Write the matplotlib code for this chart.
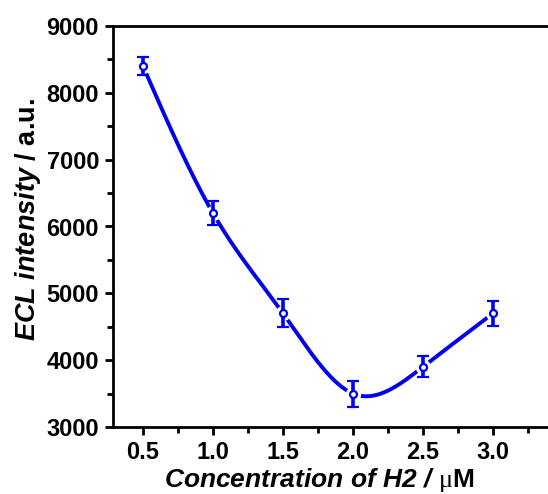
import numpy as np
import matplotlib
matplotlib.use("Agg")
import matplotlib.pyplot as plt
from matplotlib.ticker import MultipleLocator

# ---- data ----
conc = [0.5, 1.0, 1.5, 2.0, 2.5, 3.0]
ecl = [8400, 6200, 4700, 3500, 3900, 4700]
err = [130, 180, 210, 195, 155, 185]
xticks = [0.5, 1.0, 1.5, 2.0, 2.5, 3.0]
yticks = [3000, 4000, 5000, 6000, 7000, 8000, 9000]

plt.rcParams['font.family'] = ['Liberation Sans', 'DejaVu Sans']
plt.rcParams['mathtext.fontset'] = 'custom'
plt.rcParams['mathtext.rm'] = 'Liberation Serif'
plt.rcParams['mathtext.bf'] = 'Liberation Sans:bold'
plt.rcParams['mathtext.bfit'] = 'Liberation Sans:bold:italic'
plt.rcParams['mathtext.it'] = 'Liberation Sans:italic'


def natural_spline(x, y, xs):
    x = np.asarray(x, float); y = np.asarray(y, float)
    n = len(x)
    h = np.diff(x)
    A = np.zeros((n, n)); b = np.zeros(n)
    A[0, 0] = 1; A[-1, -1] = 1
    for i in range(1, n - 1):
        A[i, i - 1] = h[i - 1]
        A[i, i] = 2 * (h[i - 1] + h[i])
        A[i, i + 1] = h[i]
        b[i] = 3 * ((y[i + 1] - y[i]) / h[i] - (y[i] - y[i - 1]) / h[i - 1])
    c = np.linalg.solve(A, b)
    ys = np.empty_like(xs)
    for k, xv in enumerate(xs):
        i = min(max(np.searchsorted(x, xv) - 1, 0), n - 2)
        dx = xv - x[i]
        bi = (y[i + 1] - y[i]) / h[i] - h[i] * (2 * c[i] + c[i + 1]) / 3
        di = (c[i + 1] - c[i]) / (3 * h[i])
        ys[k] = y[i] + bi * dx + c[i] * dx ** 2 + di * dx ** 3
    return ys


W, H = 548, 494
fig = plt.figure(figsize=(W / 100, H / 100), dpi=100)
x0, x1 = 0.286, 3.6
left_px, bottom_px, top_px = 113, 427, 26
pxu = 140
ax = fig.add_axes([left_px / W, (H - bottom_px) / H, (x1 - x0) * pxu / W, (bottom_px - top_px) / H])

blue = '#0000ee'
xs = np.linspace(conc[0], conc[-1], 400)
ax.plot(xs, natural_spline(conc, ecl, xs), color=blue, lw=2.8, zorder=2, solid_capstyle='round')
ax.plot(conc, ecl, 'o', ms=10, mfc='white', mec='white', zorder=3)
ax.errorbar(conc, ecl, yerr=err, fmt='o', color=blue, ms=5, mfc='white', mec=blue, mew=1.6,
            ecolor=blue, elinewidth=2.6, capsize=4.5, capthick=2.6, zorder=4)

ax.set_xlim(x0, x1)
ax.set_ylim(3000, 9000)
ax.set_xticks(xticks)
ax.set_xticklabels([f'{v:.1f}' for v in xticks])
ax.set_yticks(yticks)
ax.xaxis.set_minor_locator(MultipleLocator(0.25))
ax.yaxis.set_minor_locator(MultipleLocator(500))
for s in ax.spines.values():
    s.set_linewidth(2.0)
ax.tick_params(which='major', direction='out', length=6, width=2, labelsize=17, pad=4)
ax.tick_params(which='minor', direction='out', length=4, width=2)
for lab in ax.get_xticklabels() + ax.get_yticklabels():
    lab.set_fontweight('bold')

fig.text(28 / W, 1 - 220 / H, r'$\mathbfit{ECL\ intensity}$ / a.u.', rotation=90,
         fontsize=19.5, fontweight='bold', ha='center', va='center')
fig.text(319 / W, 1 - 480 / H, r'$\mathbfit{Concentration\ of\ H2\ /}$ $\mathrm{μ}$M',
         fontsize=19, fontweight='bold', ha='center', va='center')

fig.savefig('out.png', dpi=100)
